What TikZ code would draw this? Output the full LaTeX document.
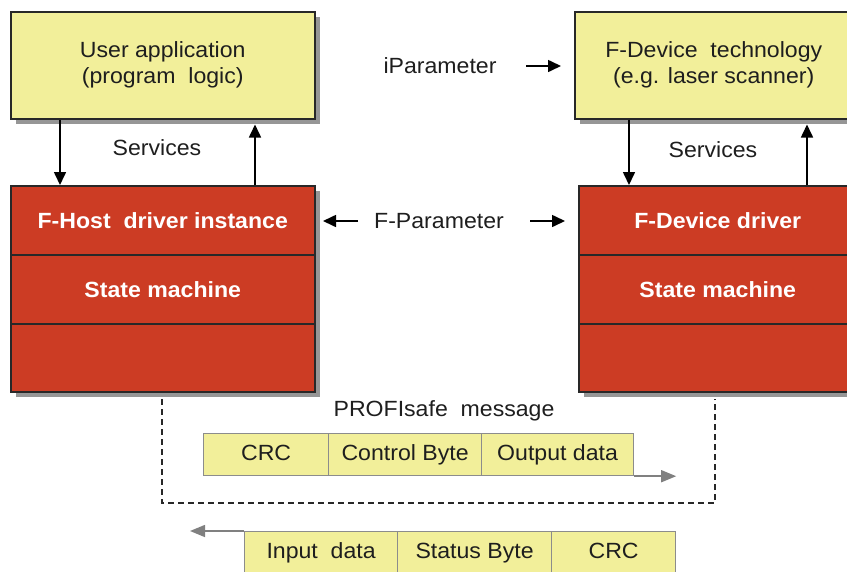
\documentclass[tikz,border=0pt]{standalone}
\usepackage{fontspec}
\setmainfont{Liberation Sans}[FakeStretch=1.05]
\usetikzlibrary{arrows.meta,shadows}
\definecolor{yel}{RGB}{242,239,154}
\definecolor{fred}{RGB}{204,60,36}
\definecolor{bord}{RGB}{40,40,40}
\definecolor{txt}{RGB}{30,30,30}
\definecolor{shad}{RGB}{150,150,150}
\definecolor{cellb}{RGB}{140,140,140}
\definecolor{garr}{RGB}{128,128,128}
\begin{document}
\begin{tikzpicture}[x=1pt,y=-1pt,
  every node/.style={font=\fontsize{22}{26}\selectfont, text=txt, inner sep=0pt},
  ybox/.style={draw=bord, line width=1.5pt, fill=yel, anchor=north west, align=center,
    drop shadow={shadow xshift=5pt, shadow yshift=-5pt, fill=shad, opacity=1}},
  rbox/.style={draw=bord, line width=1.5pt, fill=fred, anchor=north west,
    drop shadow={shadow xshift=5pt, shadow yshift=-5pt, fill=shad, opacity=1}},
  rsec/.style={draw=bord, line width=1.5pt, fill=fred, anchor=north west,
    font=\fontsize{22}{26}\selectfont\bfseries, text=white},
  cell/.style={draw=cellb, line width=1.2pt, fill=yel, anchor=north west, minimum height=42pt,
    text height=16pt, text depth=5pt},
  lab/.style={text=txt},
  arr/.style={-{Triangle[length=13pt,width=12pt]}, line width=1.6pt, draw=black},
  garrow/.style={-{Triangle[length=15pt,width=12pt]}, line width=1.5pt, draw=garr},
  dashln/.style={draw=bord, line width=1.3pt, dash pattern=on 6pt off 4pt}
]
\useasboundingbox (0,0) rectangle (847,571);
\clip (0,0) rectangle (847,571);

% yellow boxes
\node[ybox, minimum width=304pt, minimum height=107pt] (user) at (10,11)
  {User application\\(program\ \ logic)};
\node[ybox, minimum width=278pt, minimum height=107pt] (tech) at (574,11)
  {F-Device\ \ technology\\(e.g. laser scanner)};

% red boxes
\node[rbox, minimum width=304pt, minimum height=206pt] (host) at (10,185) {};
\node[rsec, minimum width=304pt, minimum height=69pt] (hostdrv) at (10,185) {F-Host\ \ driver instance};
\node[rsec, minimum width=304pt, minimum height=69pt] (hostsm) at (10,254) {State machine};
\node[rsec, minimum width=304pt, minimum height=68pt, line width=2pt] (hostlow) at (10,323) {};

\node[rbox, minimum width=278pt, minimum height=206pt] (dev) at (578,185) {};
\node[rsec, minimum width=278pt, minimum height=69pt] (devdrv) at (578,185) {F-Device driver};
\node[rsec, minimum width=278pt, minimum height=69pt] (devsm) at (578,254) {State machine};
\node[rsec, minimum width=278pt, minimum height=68pt, line width=2pt] (devlow) at (578,323) {};

% labels
\node[lab] (serv1) at (157,148) {Services};
\node[lab] (serv2) at (713,150) {Services};
\node[lab] (ipar) at (440,66) {iParameter};
\node[lab] (fpar) at (439,221) {F-Parameter};
\node[lab] (pmsg) at (444,411) {PROFIsafe\ \ message};

% services arrows
\draw[arr] ([xshift=50pt]user.south west) -- ([xshift=50pt]hostdrv.north west);
\draw[arr] ([xshift=245pt]hostdrv.north west) -- ([xshift=245pt,yshift=-5pt]user.south west);
\draw[arr] ([xshift=55pt]tech.south west) -- ([xshift=51pt]devdrv.north west);
\draw[arr] ([xshift=229pt]devdrv.north west) -- ([xshift=233pt,yshift=-5pt]tech.south west);

% parameter arrows
\coordinate (ipa) at (526,66);
\coordinate (ipb) at (561,66);
\draw[arr] (ipa) -- (ipb);
\coordinate (fpa) at (358,221);
\coordinate (fpb) at (323,221);
\draw[arr] (fpa) -- (fpb);
\coordinate (fpc) at (530,221);
\coordinate (fpd) at (565,221);
\draw[arr] (fpc) -- (fpd);

% dashed loop
\coordinate (dl) at (162,503);
\coordinate (dr) at (715,503);
\draw[dashln] ([xshift=152pt,yshift=-6pt]hostlow.south west) -- (dl) -- (dr) -- ([xshift=137pt,yshift=-6pt]devlow.south west);

% message cells (output)
\node[cell, minimum width=125pt] (crc1) at (203,433) {CRC};
\node[cell, minimum width=153pt] (ctrl) at (328,433) {Control Byte};
\node[cell, minimum width=152pt] (outd) at (481,433) {Output data};
\draw[garrow] (outd.south east) -- ++(42,0) coordinate (oend);

% message cells (input)
\node[cell, minimum width=153pt] (ind) at (244,531) {Input\ \ data};
\node[cell, minimum width=154pt] (stat) at (397,531) {Status Byte};
\node[cell, minimum width=124pt] (crc2) at (551,531) {CRC};
\draw[garrow] (ind.north west) -- ++(-54,0) coordinate (iend);
\end{tikzpicture}
\end{document}
